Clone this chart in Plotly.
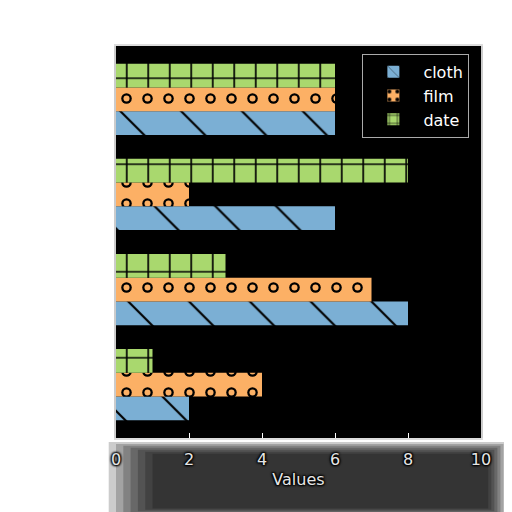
import plotly.graph_objects as go

groups = [0, 1, 2, 3]
series_names = ['cloth', 'film', 'date']
cloth = [2, 8, 6, 6]
film = [4, 7, 2, 6]
date = [1, 3, 8, 6]
x_ticks = [0, 2, 4, 6, 8, 10]

colors = {'cloth': '#7bafd4', 'film': '#fcb065', 'date': '#a9d86e'}
bar_h = 0.25
offsets = {'cloth': -bar_h, 'film': 0.0, 'date': bar_h}
values = {'cloth': cloth, 'film': film, 'date': date}
patterns = {
    'cloth': dict(shape='\\', size=43, solidity=0.05, fgcolor='black', fgopacity=1),
    'film': dict(shape='.', size=21, solidity=0.2, fgcolor='black', fgopacity=1),
    'date': dict(shape='+', size=21.5, solidity=0.15, fgcolor='black', fgopacity=1),
}

fig = go.Figure()
for name in series_names:
    fig.add_trace(go.Bar(
        y=[g + offsets[name] for g in groups],
        x=values[name],
        orientation='h',
        width=bar_h,
        name=name,
        marker=dict(color=colors[name], line_width=0,
                    pattern=dict(fillmode='overlay', **patterns[name])),
    ))
    if name == 'film':
        # hollow the dots so they look like little rings
        fig.add_trace(go.Bar(
            y=[g + offsets[name] for g in groups],
            x=values[name],
            orientation='h',
            width=bar_h,
            showlegend=False,
            hoverinfo='skip',
            marker=dict(color=colors[name], line_width=0,
                        pattern=dict(shape='.', size=21, solidity=0.065,
                                     fillmode='replace')),
        ))

# soft dark shadow under the x axis: nested faint rectangles
shadow = []
outer = (-0.02, 1.07, -0.20, -0.01)
inner = (0.10, 1.02, -0.18, -0.04)
n = 7
for i in range(n):
    t = i / (n - 1)
    x0 = outer[0] + (inner[0] - outer[0]) * t
    x1 = outer[1] + (inner[1] - outer[1]) * t
    y0 = outer[2] + (inner[2] - outer[2]) * t
    y1 = outer[3] + (inner[3] - outer[3]) * t
    shadow.append(dict(type='rect', xref='paper', yref='paper',
                       x0=x0, x1=x1, y0=y0, y1=y1,
                       fillcolor='black', opacity=0.2, line_width=0,
                       layer='below'))

tickshadow = '1px 1px 2px #000, -1px -1px 2px #000, 1px -1px 2px #000, -1px 1px 2px #000'
fig.update_layout(
    width=512, height=512,
    barmode='overlay',
    paper_bgcolor='white',
    plot_bgcolor='black',
    margin=dict(l=108, r=39, t=38, b=82),
    font=dict(family='DejaVu Sans', size=16, color='#e6e6e6'),
    xaxis=dict(range=[0, 10], tickvals=x_ticks, showgrid=False, zeroline=False,
               ticks='inside', ticklen=5, tickcolor='white',
               showline=True, linecolor='#dddddd', linewidth=2, mirror=True,
               ticklabelstandoff=6,
               tickfont=dict(size=16, color='#e6e6e6', shadow=tickshadow),
               title=dict(text='Values', standoff=6,
                          font=dict(size=16, color='#e6e6e6', shadow=tickshadow))),
    yaxis=dict(range=[-0.5625, 3.5625], showticklabels=False, showgrid=False,
               zeroline=False, ticks='', showline=True, linecolor='#cccccc',
               linewidth=2, mirror=True),
    legend=dict(x=0.675, y=0.98, xanchor='left', yanchor='top',
                bgcolor='black', bordercolor='#aaaaaa', borderwidth=1,
                font=dict(size=16, color='white'), traceorder='normal',
                itemwidth=50),
    shapes=shadow,
    showlegend=True,
)

fig.write_html("out.html")
